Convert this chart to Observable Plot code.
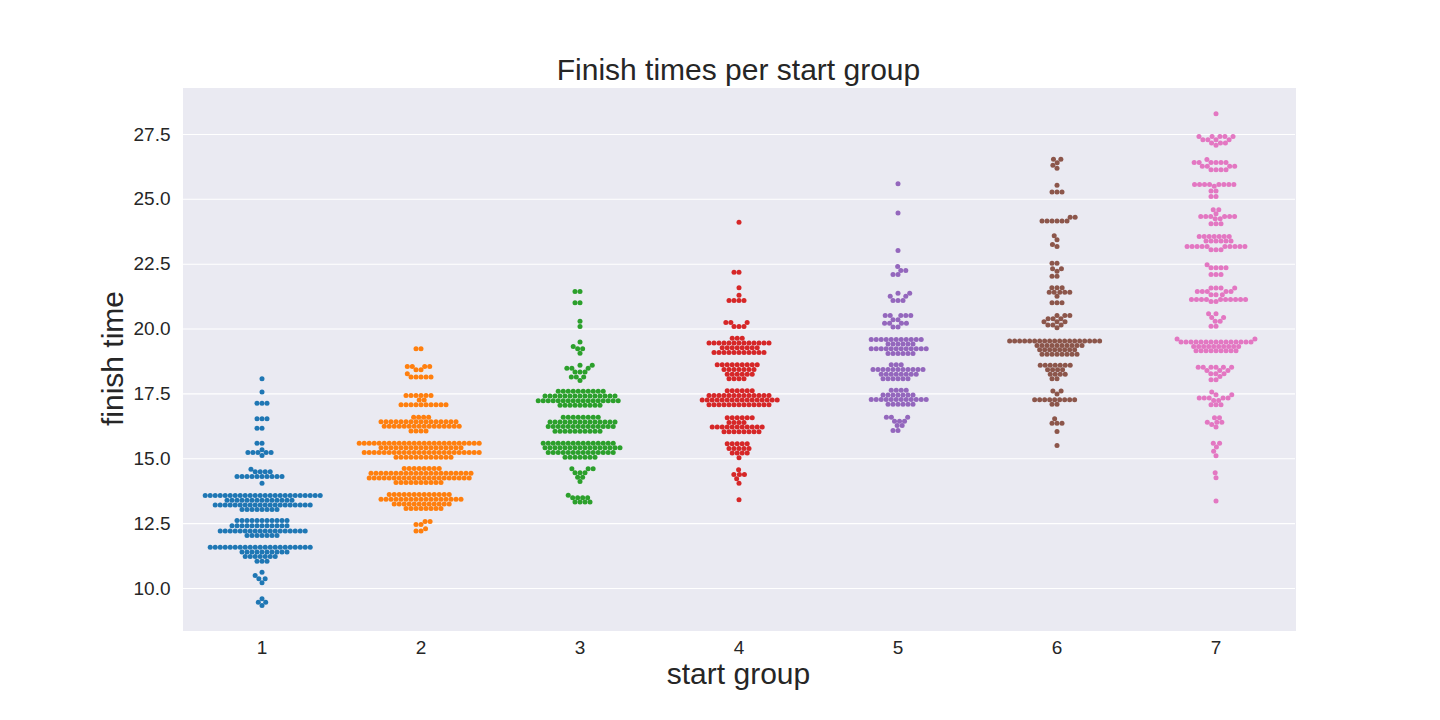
<!DOCTYPE html>
<html>
<head>
<meta charset="utf-8">
<script src="https://cdn.jsdelivr.net/npm/d3@7"></script>
<script src="https://cdn.jsdelivr.net/npm/@observablehq/plot@0.6"></script>
<style>
  html, body { margin: 0; padding: 0; background: white; }
  #chart { width: 1440px; height: 720px; }
</style>
</head>
<body>
<div id="chart"></div>
<script>
const groups = [1, 2, 3, 4, 5, 6, 7];
const palette = ["#1f77b4", "#ff7f0e", "#2ca02c", "#d62728", "#9467bd", "#8c564b", "#e377c2"];
const yTicks = [10, 12.5, 15, 17.5, 20, 22.5, 25, 27.5];

// [finish time, number of runners at (about) that time]
const group1 = [
  [9.34,1],[9.47,2],[9.6,1],
  [10.22,1],[10.37,2],[10.5,1],[10.63,1],
  [11.05,3],[11.23,7],[11.41,10],[11.59,21],
  [12.04,7],[12.22,18],[12.42,12],[12.62,11],
  [13.04,8],[13.22,20],[13.4,14],[13.58,24],
  [14.06,1],[14.32,10],[14.5,4],[14.6,1],
  [15.13,1],[15.24,5],[15.35,1],[15.6,2],
  [16.18,2],[16.54,3],[17.14,3],[17.57,1],[18.08,1]
];
const group2 = [
  [12.22,2],[12.3,1],[12.47,2],[12.58,2],
  [13.08,8],[13.26,12],[13.44,17],[13.62,13],
  [14.08,10],[14.26,21],[14.44,21],[14.62,8],
  [15.06,12],[15.24,24],[15.42,17],[15.6,25],
  [16.07,4],[16.25,16],[16.43,16],[16.6,4],
  [17.08,10],[17.26,2],[17.44,6],
  [18.15,5],[18.28,1],[18.43,2],[18.56,4],
  [19.24,2]
];
const group3 = [
  [13.33,4],[13.5,4],[13.59,1],
  [14.12,1],[14.29,2],[14.46,3],[14.61,3],
  [15.06,7],[15.24,14],[15.42,16],[15.6,15],
  [16.06,10],[16.24,14],[16.42,14],[16.6,8],
  [17.06,9],[17.24,17],[17.42,15],[17.6,10],
  [18.02,1],[18.15,3],[18.34,3],[18.49,3],[18.6,2],
  [19.07,1],[19.24,2],[19.33,1],[19.5,1],
  [20.1,1],[20.3,1],[21.01,2],[21.45,2]
];
const group4 = [
  [13.42,1],
  [14.06,1],[14.23,1],[14.39,3],[14.58,1],
  [15.04,1],[15.22,4],[15.4,5],[15.58,5],
  [16.04,8],[16.22,11],[16.4,4],[16.58,6],
  [17.08,13],[17.26,16],[17.44,13],[17.62,6],
  [18.08,4],[18.26,6],[18.44,7],[18.62,9],
  [19.1,11],[19.28,8],[19.46,13],[19.64,3],
  [20.1,3],[20.25,3],[21.1,4],[21.3,1],[21.59,1],[22.19,2],[24.12,1]
];
const group5 = [
  [16.09,2],[16.28,2],[16.45,3],[16.6,3],
  [17.1,6],[17.28,12],[17.46,7],[17.64,4],
  [18.08,6],[18.26,8],[18.44,11],[18.62,3],
  [19.06,6],[19.24,12],[19.42,6],[19.6,11],
  [20.08,2],[20.22,4],[20.36,2],[20.52,5],
  [21.1,3],[21.26,2],[21.38,2],
  [22.1,2],[22.26,2],[22.41,1],
  [23.03,1],[24.47,1],[25.6,1]
];
const group6 = [
  [15.51,1],[16.05,1],[16.37,3],[16.54,1],
  [17.1,2],[17.27,9],[17.5,1],[17.61,2],
  [18.08,2],[18.26,4],[18.43,4],[18.6,7],
  [19.03,8],[19.2,8],[19.37,10],[19.54,19],
  [20.05,1],[20.16,3],[20.28,3],[20.4,3],[20.52,3],
  [21.01,3],[21.26,1],[21.42,5],[21.59,3],
  [22.03,2],[22.23,1],[22.32,2],[22.54,2],
  [23.18,1],[23.26,1],[23.44,1],[23.6,1],
  [24.16,6],[24.31,2],
  [25.28,3],[25.54,1],
  [26.2,1],[26.31,1],[26.41,1],[26.54,2]
];
const group7 = [
  [13.37,1],[14.27,1],[14.46,1],
  [15.12,1],[15.29,1],[15.45,1],[15.6,2],
  [16.22,1],[16.32,1],[16.41,3],[16.58,2],
  [17.08,3],[17.25,2],[17.34,5],[17.47,2],[17.57,1],
  [18.05,2],[18.17,1],[18.28,3],[18.4,3],[18.53,6],
  [19.16,9],[19.33,10],[19.5,15],[19.62,2],
  [20.11,2],[20.3,2],[20.44,2],[20.59,2],
  [21.06,2],[21.14,10],[21.32,3],[21.45,5],[21.58,4],
  [22.1,3],[22.36,4],[22.48,1],
  [23.06,3],[23.18,10],[23.39,6],[23.57,7],
  [24.06,3],[24.25,2],[24.34,6],[24.44,1],[24.6,2],
  [25.11,2],[25.32,2],[25.5,1],[25.57,8],
  [26.14,4],[26.27,4],[26.42,6],[26.53,1],
  [27.08,1],[27.17,3],[27.3,4],[27.42,5],
  [28.3,1]
];
const series = [group1, group2, group3, group4, group5, group6, group7];

const rows = [];
series.forEach((s, i) => {
  s.forEach(([v, n]) => {
    for (let k = 0; k < n; k++) rows.push({group: groups[i], value: v});
  });
});
rows.sort((a, b) => a.value - b.value);

const font = "'Liberation Sans', Arial, Helvetica, sans-serif";
const ink = "#262626";

const plot = Plot.plot({
  width: 1440,
  height: 720,
  marginLeft: 181,
  marginRight: 144,
  marginTop: 87,
  marginBottom: 90,
  style: {fontFamily: font, fontSize: "19px", color: ink, background: "white", overflow: "visible"},
  fx: {domain: groups, padding: 0, label: null},
  y: {domain: [8.38, 29.31], label: null},
  color: {type: "ordinal", domain: groups, range: palette},
  marks: [
    Plot.frame({fill: "#eaeaf2", stroke: null, shapeRendering: "crispEdges"}),
    Plot.gridY(yTicks, {stroke: "white", strokeOpacity: 1, strokeWidth: 1.1}),
    Plot.axisY({ticks: yTicks, tickFormat: d3.format(".1f"), tickSize: 0, tickPadding: 12, label: null, fontSize: 19, fill: ink}),
    Plot.axisFx({anchor: "bottom", tickSize: 0, tickPadding: 10, label: null, fontSize: 19, fill: ink}),
    Plot.dot(rows, Plot.dodgeX({anchor: "middle", padding: 0}, {fx: "group", y: "value", r: 2.5, fill: "group", stroke: null}))
  ]
});

const svg = d3.select(plot);
svg.append("text")
  .attr("x", 738.5).attr("y", 80)
  .attr("text-anchor", "middle")
  .attr("font-size", 30).attr("fill", ink).attr("font-family", font)
  .text("Finish times per start group");
svg.append("text")
  .attr("x", 738.5).attr("y", 684)
  .attr("text-anchor", "middle")
  .attr("font-size", 30).attr("fill", ink).attr("font-family", font)
  .text("start group");
svg.append("text")
  .attr("transform", "translate(123,358.5) rotate(-90)")
  .attr("text-anchor", "middle")
  .attr("font-size", 30).attr("fill", ink).attr("font-family", font)
  .text("finish time");

document.getElementById("chart").appendChild(plot);
</script>
</body>
</html>
